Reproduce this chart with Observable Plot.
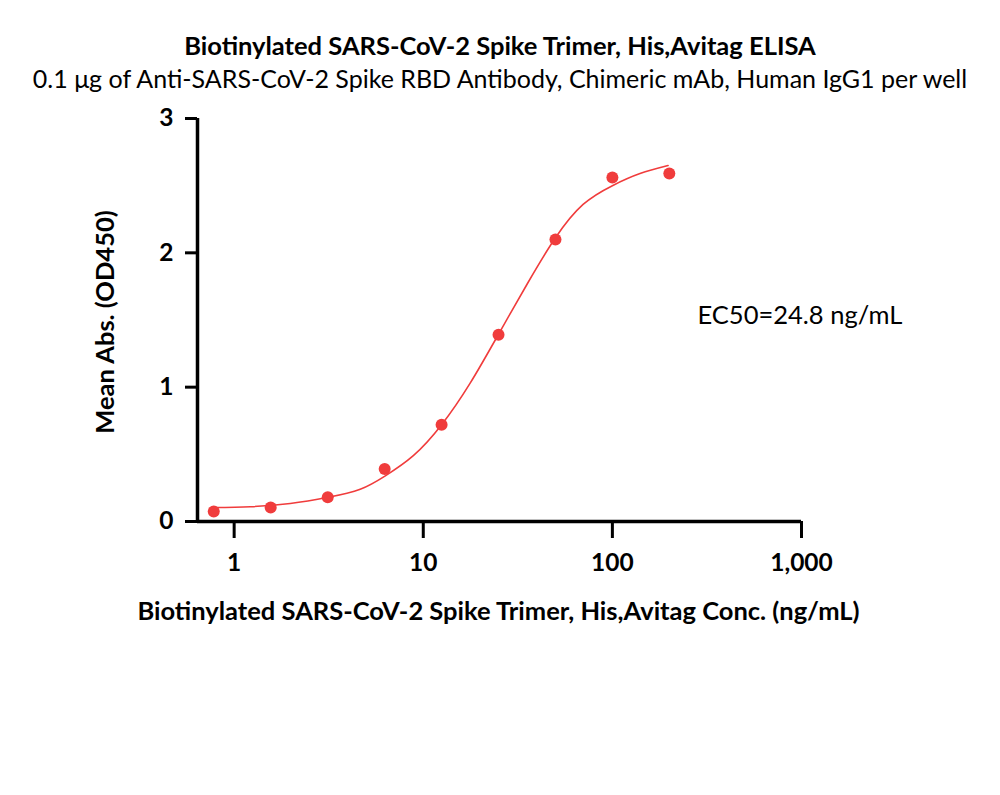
<!DOCTYPE html>
<html>
<head>
<meta charset="utf-8">
<script src="https://cdn.jsdelivr.net/npm/d3@7"></script>
<script src="https://cdn.jsdelivr.net/npm/@observablehq/plot@0.6"></script>
<style>
  html, body { margin: 0; padding: 0; background: #fff; }
  #wrap { position: relative; width: 1000px; height: 795px; font-family: Lato, "Noto Sans", sans-serif; }
  .t { position: absolute; left: 0; width: 1000px; text-align: center; color: #000; white-space: nowrap; line-height: 1; }
  #title { top: 33px; font-size: 25.5px; font-weight: bold; }
  #subtitle { top: 66px; font-size: 25px; }
  #chart { position: absolute; left: 0; top: 0; }
</style>
</head>
<body>
<div id="wrap">
  <div id="chart"></div>
  <div class="t" id="title">Biotinylated SARS-CoV-2 Spike Trimer, His,Avitag ELISA</div>
  <div class="t" id="subtitle">0.1 μg of Anti-SARS-CoV-2 Spike RBD Antibody, Chimeric mAb, Human IgG1 per well</div>
</div>
<script>
// Measured points
const conc = [0.78, 1.56, 3.125, 6.25, 12.5, 25, 50, 100, 200];
const od450 = [0.074, 0.104, 0.18, 0.39, 0.72, 1.39, 2.10, 2.56, 2.59];
// Fitted curve
const curveX = [0.78, 1.22, 1.98, 3.14, 4.64, 6.3, 8.86, 12.5, 17.7, 24.9, 35.5, 49.9, 70, 100, 140, 197];
const curveY = [0.104, 0.11, 0.134, 0.18, 0.24, 0.34, 0.49, 0.72, 1.03, 1.39, 1.77, 2.11, 2.36, 2.50, 2.59, 2.65];
const xTicks = [1, 10, 100, 1000];
const yTicks = [0, 1, 2, 3];
const ec50Label = "EC50=24.8 ng/mL";

const points = conc.map((c, i) => ({x: c, y: od450[i]}));
const curve = curveX.map((c, i) => ({x: c, y: curveY[i]}));
const red = "#f03c3c";
const font = "Lato, 'Noto Sans', sans-serif";

const plot = Plot.plot({
  width: 1000,
  height: 795,
  marginLeft: 197,
  marginRight: 199,
  marginTop: 118,
  marginBottom: 274,
  style: {fontFamily: font, background: "white", overflow: "visible"},
  x: {type: "log", domain: [0.64, 1000]},
  y: {domain: [0, 3]},
  marks: [
    Plot.axisY({ticks: yTicks, tickSize: 12, tickPadding: 12, strokeWidth: 3, fontSize: 24.5, fontWeight: "bold", label: null, tickFormat: d3.format("d")}),
    Plot.axisX({ticks: xTicks, tickSize: 17, tickPadding: 15, strokeWidth: 3, fontSize: 24.5, fontWeight: "bold", label: null, tickFormat: d3.format(",")}),
    Plot.ruleX([0.64], {strokeWidth: 3.5, stroke: "black"}),
    Plot.ruleY([0], {strokeWidth: 3.5, stroke: "black"}),
    Plot.line(curve, {x: "x", y: "y", stroke: red, strokeWidth: 1.6, curve: "natural"}),
    Plot.dot(points, {x: "x", y: "y", r: 6, fill: red, stroke: "none"}),
    Plot.text([ec50Label], {frameAnchor: "top-right", dx: -104, dy: 197, text: d => d, textAnchor: "start", lineAnchor: "middle", fontSize: 25.5, fill: "black"}),
    Plot.text(["Mean Abs. (OD450)"], {frameAnchor: "left", dx: -92, dy: 2, rotate: -90, text: d => d, textAnchor: "middle", lineAnchor: "middle", fontSize: 25.5, fontWeight: "bold", fill: "black"}),
    Plot.text(["Biotinylated SARS-CoV-2 Spike Trimer, His,Avitag Conc. (ng/mL)"], {frameAnchor: "bottom", dy: 90, dx: -1, text: d => d, textAnchor: "middle", lineAnchor: "middle", fontSize: 25.5, fontWeight: "bold", fill: "black"})
  ]
});
document.getElementById("chart").appendChild(plot);
</script>
</body>
</html>
